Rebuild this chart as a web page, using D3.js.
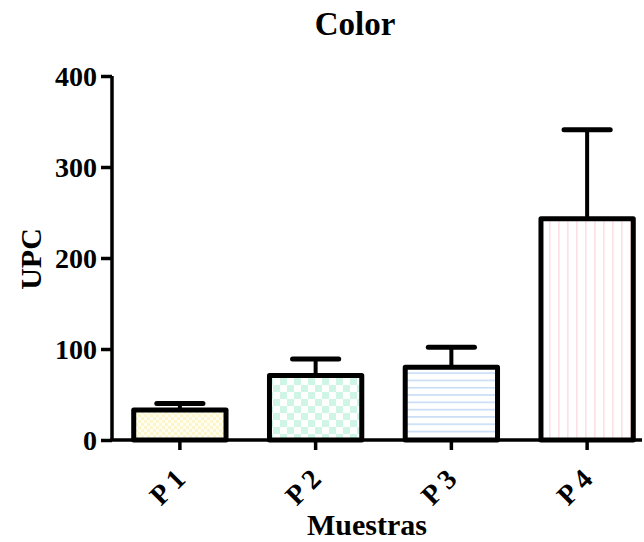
<!DOCTYPE html>
<html><head><meta charset="utf-8">
<script src="https://cdn.jsdelivr.net/npm/d3@7"></script>
<style>body{margin:0;background:#fff}svg{display:block}text{font-family:"Liberation Serif","Times New Roman",serif;font-weight:bold;fill:#000}</style>
</head><body><svg id="c" width="644" height="542"></svg>
<script>
const categories = ["P1","P2","P3","P4"];
const means = [33, 71, 80, 243];
const errors = [7, 18, 22, 98];
const yTicks = [0,100,200,300,400];
const patterns = ["checkFine","checkGreen","hLines","vLines"];

const svg = d3.select("#c");
const defs = svg.append("defs");
let p = defs.append("pattern").attr("id","checkFine").attr("patternUnits","userSpaceOnUse").attr("width",6).attr("height",6);
p.append("rect").attr("width",6).attr("height",6).attr("fill","#fffef0");
p.append("rect").attr("width",3).attr("height",3).attr("fill","#fdf6cc");
p.append("rect").attr("x",3).attr("y",3).attr("width",3).attr("height",3).attr("fill","#fdf6cc");
p = defs.append("pattern").attr("id","checkGreen").attr("patternUnits","userSpaceOnUse").attr("width",14).attr("height",14);
p.append("rect").attr("width",14).attr("height",14).attr("fill","#fff");
p.append("rect").attr("width",7).attr("height",7).attr("fill","#cff5e6");
p.append("rect").attr("x",7).attr("y",7).attr("width",7).attr("height",7).attr("fill","#cff5e6");
p = defs.append("pattern").attr("id","hLines").attr("patternUnits","userSpaceOnUse").attr("width",8).attr("height",7.3);
p.append("rect").attr("width",8).attr("height",7.3).attr("fill","#fff");
p.append("rect").attr("y",0).attr("width",8).attr("height",1.6).attr("fill","#c7dcf5");
p = defs.append("pattern").attr("id","vLines").attr("patternUnits","userSpaceOnUse").attr("width",9).attr("height",8);
p.append("rect").attr("width",9).attr("height",8).attr("fill","#fff");
p.append("rect").attr("x",0).attr("width",1.6).attr("height",8).attr("fill","#fde0e3");

const x = d3.scaleBand().domain(categories).range([112, 655]).paddingInner(0.32).paddingOuter(0.16);
const y = d3.scaleLinear().domain([0,400]).range([440,76]);

const g = svg.append("g");
categories.forEach((c,i)=>{
  const x0 = x(c), w = x.bandwidth(), cx = x0 + w/2;
  g.append("line").attr("x1",cx).attr("x2",cx).attr("y1",y(means[i])).attr("y2",y(means[i]+errors[i])).attr("stroke","#000").attr("stroke-width",4);
  g.append("line").attr("x1",cx-w/4).attr("x2",cx+w/4).attr("y1",y(means[i]+errors[i])).attr("y2",y(means[i]+errors[i])).attr("stroke","#000").attr("stroke-width",5).attr("stroke-linecap","round");
  g.append("rect").attr("x",x0).attr("y",y(means[i])).attr("width",w).attr("height",y(0)-y(means[i]))
    .attr("fill","url(#"+patterns[i]+")").attr("stroke","#000").attr("stroke-width",5).attr("stroke-linejoin","round");
});

const ya = svg.append("g").attr("transform","translate(112,0)")
  .call(d3.axisLeft(y).tickValues(yTicks).tickSize(11).tickPadding(4).tickFormat(d3.format("d")));
ya.select(".domain").attr("stroke","#000").attr("stroke-width",3.5).attr("d","M0,76V440");
ya.selectAll(".tick line").attr("stroke","#000").attr("stroke-width",3.5);
ya.selectAll(".tick text").attr("font-size",28).attr("dy","0.34em");

const xa = svg.append("g").attr("transform","translate(0,440)")
  .call(d3.axisBottom(x).tickSize(10).tickSizeOuter(0).tickFormat(d=>d.replace("P","P ")));
xa.select(".domain").attr("stroke","#000").attr("stroke-width",3.5).attr("d","M110,0H642");
xa.selectAll(".tick line").attr("stroke","#000").attr("stroke-width",3.5);
xa.selectAll(".tick text").attr("font-size",28).attr("text-anchor","end")
  .attr("transform","translate(0,34) rotate(-45)").attr("dy","0.35em").attr("y",0).attr("x",0);

svg.append("text").attr("x",355).attr("y",35).attr("text-anchor","middle").attr("font-size",33).text("Color");
svg.append("text").attr("transform","translate(41,259) rotate(-90)").attr("text-anchor","middle").attr("font-size",30).text("UPC");
svg.append("text").attr("x",367).attr("y",535).attr("text-anchor","middle").attr("font-size",30).text("Muestras");
</script></body></html>
